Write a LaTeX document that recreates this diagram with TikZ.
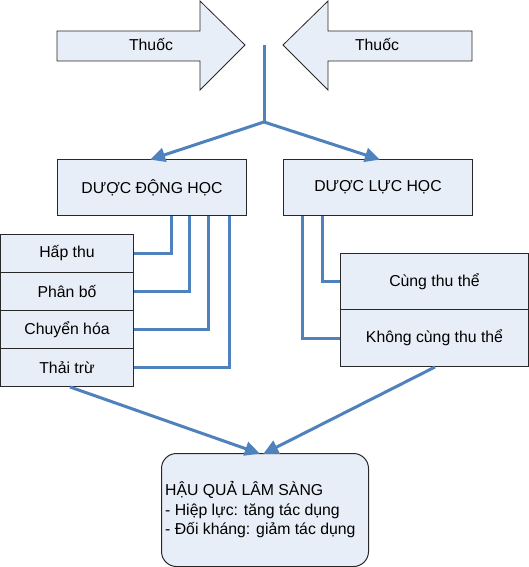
\documentclass[tikz,border=0pt]{standalone}
\usepackage{fontspec}
\setmainfont{Liberation Sans}
\usetikzlibrary{arrows.meta,calc}
\definecolor{boxfill}{RGB}{232,238,247}
\definecolor{linkblue}{RGB}{79,129,189}
\definecolor{edge}{RGB}{40,40,40}
\tikzset{
  txt/.style={font=\fontsize{15.8}{19.5}\selectfont, text=black},
  box/.style={txt, draw=edge, line width=1pt, fill=boxfill, inner sep=0pt, anchor=north west},
  blockarrow/.style={draw=edge, line width=0.8pt, fill=boxfill},
  conn/.style={draw=linkblue, line width=3pt},
  tip/.style={conn, -{Triangle[length=15pt,width=14pt]}, shorten >=-2pt},
}
\begin{document}
\begin{tikzpicture}[x=1pt,y=-1pt]
\useasboundingbox (0,0) rectangle (529,567);
% block arrows
\draw[blockarrow] (57,31) -- (200,31) -- (200,1) -- (245,45) -- (200,90) -- (200,61) -- (57,61) -- cycle;
\node[txt] (thuocL) at (151,45) {Thuốc};
\draw[blockarrow] (472,31) -- (328,31) -- (328,1) -- (283,45) -- (328,90) -- (328,61) -- (472,61) -- cycle;
\node[txt] (thuocR) at (377,45) {Thuốc};
% main boxes
\node[box, minimum width=189pt, minimum height=56pt] (dd) at (57,159) {DƯỢC ĐỘNG HỌC};
\node[box, minimum width=189pt, minimum height=56pt] (dl) at (283,159) {DƯỢC LỰC HỌC};
% left stack
\node[box, minimum width=133pt, minimum height=38pt] (hap) at (0,234) {Hấp thu};
\node[box, minimum width=133pt, minimum height=38pt] (phan) at (0,272) {Phân bố};
\node[box, minimum width=133pt, minimum height=38pt] (chuyen) at (0,310) {Chuyển hóa};
\node[box, minimum width=133pt, minimum height=38pt] (thai) at (0,348) {Thải trừ};
% right stack
\node[box, minimum width=188pt, minimum height=56pt] (cung) at (340,253) {Cùng thu thể};
\node[box, minimum width=188pt, minimum height=57pt] (khong) at (340,309) {Không cùng thu thể};
% result box
\node[box, rounded corners=15pt, minimum width=207pt, minimum height=113pt] (hq) at (161,453) {};
\node[txt, anchor=west, align=left, inner sep=0pt] (hqtext) at (165,510) {HẬU QUẢ LÂM SÀNG\\- Hiệp lực: tăng tác dụng\\- Đối kháng: giảm tác dụng};
% connectors
\coordinate (top) at (264,45);
\coordinate (split) at (264,122);
\draw[conn] (top) -- (split);
\draw[tip] (split) -- ([xshift=95pt]dd.north west);
\draw[tip] (split) -- ([xshift=95pt]dl.north west);
\draw[conn] ([xshift=114pt]dd.south west) |- (hap.east);
\draw[conn] ([xshift=132pt]dd.south west) |- (phan.east);
\draw[conn] ([xshift=151pt]dd.south west) |- (chuyen.east);
\draw[conn] ([xshift=172pt]dd.south west) |- (thai.east);
\draw[conn] ([xshift=39pt]dl.south west) |- (cung.west);
\draw[conn] ([xshift=19pt]dl.south west) |- (khong.west);
\draw[tip] ([xshift=70pt]thai.south west) -- ([xshift=97pt]hq.north west);
\draw[tip] ([xshift=95pt]khong.south west) -- ([xshift=104pt]hq.north west);
\end{tikzpicture}
\end{document}
